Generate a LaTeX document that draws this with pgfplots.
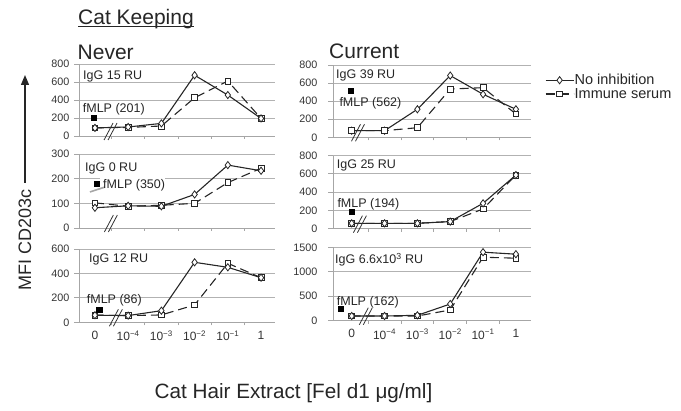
\documentclass[border=0pt]{standalone}
\usepackage{fontspec}
\setmainfont{Liberation Sans}
\usepackage{pgfplots}
\pgfplotsset{compat=1.18}
\usetikzlibrary{arrows.meta}
\newcommand{\brk}[1]{%
  \draw[black!80, line width=0.8pt] ([xshift=-6.5pt,yshift=-4pt]axis cs:#1,0) -- ++(9pt,17pt);
  \draw[black!80, line width=0.8pt] ([xshift=-2.5pt,yshift=-4pt]axis cs:#1,0) -- ++(9pt,17pt);}
\tikzset{txt/.style={anchor=base west, inner sep=0pt, font=\fontsize{12.5}{14}\selectfont, text=black!85}}
\pgfplotsset{
  panel/.style={
    scale only axis, anchor=south west, clip=false,
    axis x line*=bottom, axis y line*=left,
    axis line style={gray!70, line width=0.9pt},
    ymajorgrids, grid style={gray!60, line width=0.9pt},
    ymin=0,
    xtick={0,...,5}, xticklabels={},
    major x tick style={draw=none},
    minor xtick={0.5,1.5,2.5,3.5,4.5},
    minor x tick style={gray!70, line width=0.9pt},
    tick align=outside,
    major tick length=5pt, minor tick length=3pt,
    y tick style={gray!70, line width=0.9pt},
    yticklabel style={font=\fontsize{10.8}{12}\selectfont, text=black!80},
    xticklabel style={font=\fontsize{12}{13}\selectfont, text=black!80},
    /pgf/number format/assume math mode=true,
    /pgf/number format/1000 sep={},
  },
  leftp/.style={panel, width=196pt, xmin=-0.48, xmax=5.42, yticklabel style={xshift=-1pt}},
  rightp/.style={panel, width=198pt, xmin=-0.57, xmax=5.46, yticklabel style={xshift=-7pt}},
  ni/.style={black!85, line width=1.1pt, solid, mark=diamond*, mark size=3.6pt, mark options={fill=white, solid, line width=0.8pt}},
  is/.style={black!85, line width=1.1pt, dash pattern=on 9pt off 5pt, mark=square*, mark size=2.9pt, mark options={fill=white, solid, line width=0.8pt}},
  fm/.style={only marks, mark=square*, mark size=2.7pt, black, forget plot},
  botlabels/.style={xticklabels={0,10\textsuperscript{−4},10\textsuperscript{−3},10\textsuperscript{−2},10\textsuperscript{−1},1}},
}
\begin{document}
\begin{tikzpicture}
\useasboundingbox (0,0) rectangle (681pt,411pt);
% ---------------- Never ----------------
\begin{axis}[leftp, at={(79pt,275pt)}, height=72pt, ymax=800, ytick={0,200,...,800}]
\addplot[is] coordinates {(0,90)(1,95)(2,111)(3,425)(4,611)(5,195)};
\addplot[ni] coordinates {(0,90)(1,100)(2,140)(3,675)(4,455)(5,195)};
\addplot[fm] coordinates {(-0.03,201)};
\brk{0.47}
\end{axis}
\begin{axis}[leftp, at={(79pt,183pt)}, height=74pt, ymax=300, ytick={0,100,200,300}]
\node[txt, fill=white, inner sep=1.5pt] at (axis cs:0.16,162) {\phantom{fMLP (350)}};
\addplot[is] coordinates {(0,102)(1,88)(2,92)(3,100)(4,184)(5,242)};
\addplot[ni] coordinates {(0,82)(1,90)(2,88)(3,136)(4,255)(5,232)};
\addplot[fm] coordinates {(0.06,180)};
\draw[gray!70, line width=1.6pt] (axis cs:-0.15,146) -- (axis cs:0.3,166);
\brk{0.48}
\end{axis}
\begin{axis}[leftp, botlabels, at={(79pt,88.7pt)}, height=73.3pt, ymax=600, ytick={0,200,400,600}]
\addplot[is] coordinates {(0,58)(1,55)(2,60)(3,142)(4,483)(5,365)};
\addplot[ni] coordinates {(0,58)(1,55)(2,95)(3,491)(4,450)(5,365)};
\addplot[fm] coordinates {(0.13,105)};
\brk{0.63}
\end{axis}
% ---------------- Current ----------------
\begin{axis}[rightp, at={(333pt,273.7pt)}, height=72.3pt, ymax=800, ytick={0,200,...,800},
  legend style={at={(1.07,0.696)}, anchor=west, draw=none, fill=none, inner sep=0pt,
    font=\fontsize{14.5}{16}\selectfont, row sep=1pt, nodes={inner sep=0.5pt, text=black!85}},
  legend cell align=left,
  legend image code/.code={\draw[mark repeat=2,mark phase=2,#1] plot coordinates {(0pt,0pt) (14pt,0pt) (28pt,0pt)};}]
\addplot[ni] coordinates {(0,73)(1,73)(2,310)(3,683)(4,476)(5,310)};
\addlegendentry{No inhibition}
\addplot[is] coordinates {(0,73)(1,73)(2,106)(3,534)(4,549)(5,258)};
\addlegendentry{Immune serum}
\addplot[fm] coordinates {(-0.03,516)};
\brk{0.19}
\end{axis}
\begin{axis}[rightp, at={(333pt,182.3pt)}, height=73pt, ymax=800, ytick={0,200,...,800}]
\addplot[is] coordinates {(0,59)(1,59)(2,59)(3,78)(4,216)(5,588)};
\addplot[ni] coordinates {(0,59)(1,59)(2,59)(3,78)(4,278)(5,588)};
\addplot[fm] coordinates {(0,186)};
\brk{0.25}
\end{axis}
\begin{axis}[rightp, botlabels, at={(333pt,90.3pt)}, height=73.4pt, ymax=1500, ytick={0,500,1000,1500}]
\addplot[is] coordinates {(0,96)(1,96)(2,96)(3,219)(4,1297)(5,1277)};
\addplot[ni] coordinates {(0,96)(1,96)(2,110)(3,341)(4,1400)(5,1359)};
\addplot[fm] coordinates {(-0.33,239)};
\brk{0.43}
\end{axis}
% ---------------- texts ----------------
\node[txt] at (83pt,411pt-79.5pt) {IgG 15 RU};
\node[txt] at (82.7pt,411pt-112.2pt) {fMLP (201)};
\node[txt] at (85pt,411pt-171.2pt) {IgG 0 RU};
\node[txt] at (103pt,411pt-188.8pt) {fMLP (350)};
\node[txt] at (89pt,411pt-262.2pt) {IgG 12 RU};
\node[txt] at (86.7pt,411pt-303.8pt) {fMLP (86)};
\node[txt] at (336pt,411pt-78.8pt) {IgG 39 RU};
\node[txt] at (339.3pt,411pt-106.2pt) {fMLP (562)};
\node[txt] at (336.7pt,411pt-168.8pt) {IgG 25 RU};
\node[txt] at (337.3pt,411pt-207.2pt) {fMLP (194)};
\node[txt] at (335pt,411pt-263.5pt) {IgG 6.6x10\textsuperscript{3} RU};
\node[txt] at (336.7pt,411pt-305.5pt) {fMLP (162)};
\node[anchor=base west, inner sep=0pt, font=\fontsize{21}{24}\selectfont, text=black!85] (ck) at (78pt,411pt-24.5pt) {Cat Keeping};
\draw[black!85, line width=1.3pt] ([yshift=-2.3pt]ck.base west) -- ([yshift=-2.3pt]ck.base east);
\node[anchor=base west, inner sep=0pt, font=\fontsize{21}{24}\selectfont, text=black!85] at (77.5pt,411pt-59.3pt) {Never};
\node[anchor=base west, inner sep=0pt, font=\fontsize{21}{24}\selectfont, text=black!85] at (329pt,411pt-58.3pt) {Current};
\node[anchor=base, inner sep=0pt, font=\fontsize{20.7}{24}\selectfont, text=black!85] at (293.5pt,411pt-399pt) {Cat Hair Extract [Fel d1 μg/ml]};
\node[rotate=90, inner sep=0pt, font=\fontsize{18}{20}\selectfont, text=black!85] at (25pt,411pt-240pt) {MFI CD203c};
\draw[-{Triangle[length=10pt,width=8pt]}, line width=1.3pt, black!85] (25pt,411pt-183pt) -- (25pt,411pt-75pt);
\end{tikzpicture}
\end{document}
